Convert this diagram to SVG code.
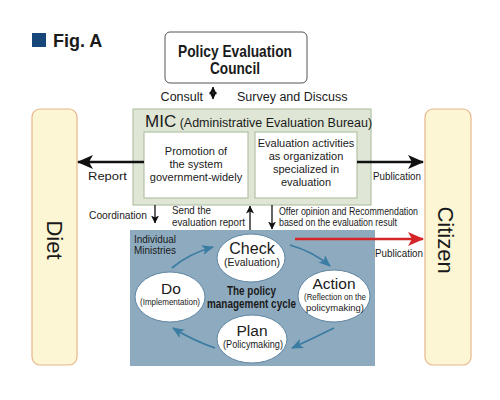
<svg xmlns="http://www.w3.org/2000/svg" width="500" height="400" viewBox="0 0 500 400">
<defs>
<style>
text{font-family:"Liberation Sans",Arial,sans-serif;fill:#1a1a1a}
.side{fill:#fdf6d4;stroke:#e6b68a;stroke-width:1.2}
.lbl{font-size:11px}
.sm{font-size:10.5px}
.ell{fill:#fff;stroke:#5f86a3;stroke-width:1}
.cyc{fill:none;stroke:#3b7ca3;stroke-width:1.8;marker-end:url(#ba)}
.thin{stroke:#111;stroke-width:1.3;fill:none;marker-end:url(#sa)}
.big{stroke:#111;stroke-width:2.6;fill:none;marker-end:url(#la)}
</style>
<marker id="la" markerUnits="userSpaceOnUse" markerWidth="16" markerHeight="14" refX="15" refY="7" orient="auto"><path d="M0,0 L16,7 L0,14 L4,7 z" fill="#111"/></marker>
<marker id="ra" markerUnits="userSpaceOnUse" markerWidth="16" markerHeight="14" refX="15" refY="7" orient="auto"><path d="M0,0 L16,7 L0,14 L4,7 z" fill="#d42626"/></marker>
<marker id="sa" markerUnits="userSpaceOnUse" markerWidth="8" markerHeight="8" refX="7.5" refY="4" orient="auto-start-reverse"><path d="M0,0 L8,4 L0,8 L2,4 z" fill="#111"/></marker>
<marker id="ba" markerUnits="userSpaceOnUse" markerWidth="12" markerHeight="10" refX="11" refY="5" orient="auto"><path d="M0,0 L12,5 L0,10 L3,5 z" fill="#3b7ca3"/></marker>
</defs>
<rect width="500" height="400" fill="#fff"/>

<g id="title">
<rect x="32" y="33" width="14" height="14" fill="#17467a"/>
<text x="53" y="47" font-size="18" font-weight="bold">Fig. A</text>
</g>

<g id="council">
<rect x="165" y="32" width="142" height="51" rx="5" fill="#fff" stroke="#555" stroke-width="1"/>
<text x="178" y="57" font-size="16.5" font-weight="bold" textLength="114" lengthAdjust="spacingAndGlyphs" fill="#222">Policy Evaluation</text>
<text x="210" y="74" font-size="16.5" font-weight="bold" textLength="50" lengthAdjust="spacingAndGlyphs" fill="#222">Council</text>
</g>

<g id="diet">
<rect class="side" x="32" y="109" width="45" height="256" rx="8"/>
<text transform="translate(55,240) rotate(90)" font-size="22" text-anchor="middle" dy="8">Diet</text>
</g>

<g id="citizen">
<rect class="side" x="425" y="109" width="46" height="256" rx="8"/>
<text transform="translate(446,240) rotate(90)" font-size="22" text-anchor="middle" dy="8">Citizen</text>
</g>

<g id="mic">
<rect x="133" y="109" width="238" height="96" fill="#dfe6d6" stroke="#b4c4a6" stroke-width="1.2"/>
<text x="145" y="127"><tspan font-size="17">MIC</tspan><tspan font-size="12.5"> (Administrative Evaluation Bureau)</tspan></text>
</g>

<g id="promotion">
<rect x="144" y="132" width="104" height="66" fill="#fff" stroke="#b4c4a6" stroke-width="1.2"/>
<text class="lbl" text-anchor="middle"><tspan x="196" y="155">Promotion of</tspan><tspan x="196" y="168">the system</tspan><tspan x="196" y="181">government-widely</tspan></text>
</g>

<g id="activities">
<rect x="255" y="132" width="102" height="66" fill="#fff" stroke="#b4c4a6" stroke-width="1.2"/>
<text class="lbl" text-anchor="middle"><tspan x="306" y="147">Evaluation activities</tspan><tspan x="306" y="160">as organization</tspan><tspan x="306" y="173">specialized in</tspan><tspan x="306" y="186">evaluation</tspan></text>
</g>

<g id="ministries">
<rect x="130" y="230" width="245" height="136" fill="#8eaabf"/>
<text class="sm" fill="#1e2a36"><tspan x="134" y="243" textLength="42" lengthAdjust="spacingAndGlyphs">Individual</tspan><tspan x="134" y="254" textLength="42" lengthAdjust="spacingAndGlyphs">Ministries</tspan></text>
<text font-size="13.5" font-weight="bold" fill="#111"><tspan x="227" y="295" textLength="49" lengthAdjust="spacingAndGlyphs">The policy</tspan><tspan x="207" y="308" textLength="89" lengthAdjust="spacingAndGlyphs">management cycle</tspan></text>
</g>

<g id="check">
<ellipse class="ell" cx="251" cy="258" rx="34" ry="24"/>
<text x="252" y="254" font-size="16" text-anchor="middle">Check</text>
<text x="252" y="266" font-size="10.5" text-anchor="middle">(Evaluation)</text>
</g>
<g id="action">
<ellipse class="ell" cx="334" cy="296" rx="36" ry="26"/>
<text x="334" y="289" font-size="15.5" text-anchor="middle">Action</text>
<text font-size="9.5" text-anchor="middle"><tspan x="335" y="300" textLength="62" lengthAdjust="spacingAndGlyphs">(Reflection on the</tspan><tspan x="335" y="311">policymaking)</tspan></text>
</g>
<g id="plan">
<ellipse class="ell" cx="252" cy="339" rx="35" ry="24"/>
<text x="252" y="336" font-size="15.5" text-anchor="middle">Plan</text>
<text x="253" y="348" font-size="10" text-anchor="middle" textLength="60" lengthAdjust="spacingAndGlyphs">(Policymaking)</text>
</g>
<g id="do">
<ellipse class="ell" cx="170" cy="297" rx="35" ry="25"/>
<text x="171" y="294" font-size="15.5" text-anchor="middle">Do</text>
<text x="170" y="305" font-size="9" text-anchor="middle" textLength="60" lengthAdjust="spacingAndGlyphs">(Implementation)</text>
</g>

<g id="connectors">
<line x1="213" y1="87" x2="213" y2="99" stroke="#111" stroke-width="1.3" marker-start="url(#sa)" marker-end="url(#sa)"/>
<text x="203" y="101" font-size="12.5" text-anchor="end">Consult</text>
<text x="237" y="101" font-size="12.5">Survey and Discuss</text>

<line class="big" x1="144" y1="162" x2="78" y2="162"/>
<text class="lbl" x="88" y="180" textLength="39" lengthAdjust="spacingAndGlyphs">Report</text>
<line class="big" x1="357" y1="162" x2="423" y2="162"/>
<text class="lbl" x="373" y="180" textLength="48" lengthAdjust="spacingAndGlyphs">Publication</text>

<line class="thin" x1="155" y1="205" x2="155" y2="223"/>
<text class="sm" x="89" y="219" textLength="58" lengthAdjust="spacingAndGlyphs">Coordination</text>
<text class="sm"><tspan x="172" y="214" textLength="39" lengthAdjust="spacingAndGlyphs">Send the</tspan><tspan x="172" y="226" textLength="73" lengthAdjust="spacingAndGlyphs">evaluation report</tspan></text>
<line class="thin" x1="250" y1="230" x2="250" y2="206"/>
<line class="thin" x1="272" y1="205" x2="272" y2="229"/>
<text font-size="10.5"><tspan x="279" y="215" textLength="139" lengthAdjust="spacingAndGlyphs">Offer opinion and Recommendation</tspan><tspan x="279" y="226" textLength="118" lengthAdjust="spacingAndGlyphs">based on the evaluation result</tspan></text>

<line x1="295" y1="239" x2="423" y2="239" stroke="#d42626" stroke-width="2.4" marker-end="url(#ra)"/>
<text class="lbl" x="375" y="257" textLength="48" lengthAdjust="spacingAndGlyphs">Publication</text>

<path class="cyc" d="M172,268 Q188,254 213,247"/>
<path class="cyc" d="M290,245 Q314,252 330,266"/>
<path class="cyc" d="M334,328 Q314,338 292,348"/>
<path class="cyc" d="M215,348 Q192,340 173,328"/>
</g>
</svg>
